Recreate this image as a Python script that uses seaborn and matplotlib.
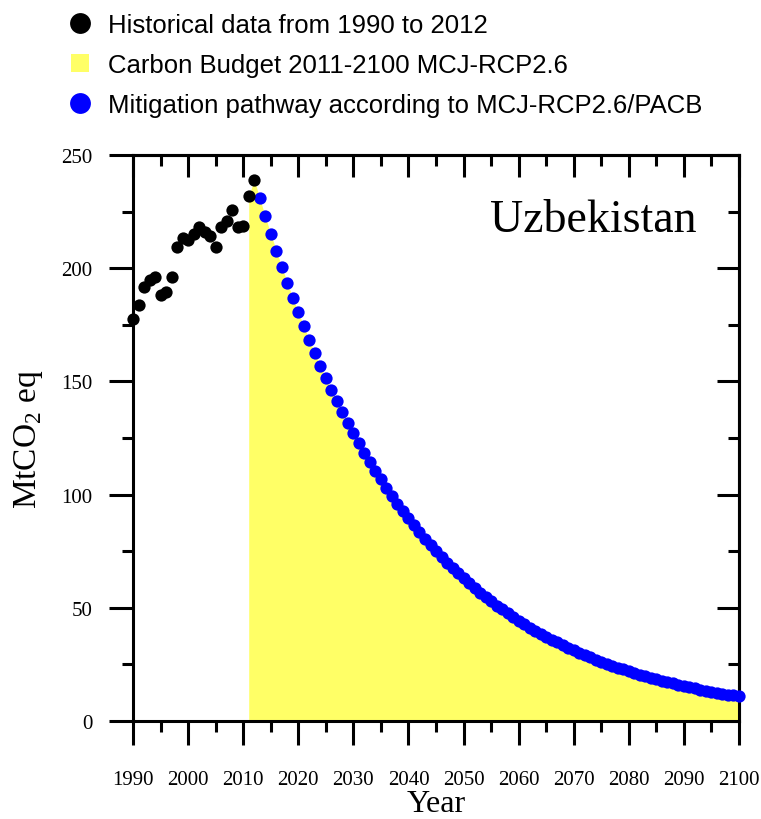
import numpy as np
import pandas as pd
import matplotlib
matplotlib.use("Agg")
import matplotlib.pyplot as plt
import seaborn as sns
from matplotlib.lines import Line2D
from matplotlib.ticker import MultipleLocator

# historical emissions, MtCO2 eq
hist_years = list(range(1990, 2013))
hist_values = [177.5, 183.9, 191.7, 194.6, 196.1, 188.0, 189.5, 196.1, 209.3,
               213.4, 212.5, 215.2, 218.4, 215.9, 214.2, 209.3, 218.1, 221.0,
               225.7, 218.1, 218.8, 231.8, 239.1]

# mitigation pathway 2013-2100
path_years = list(range(2013, 2101))
path_values = [230.9, 222.9, 215.2, 207.8, 200.7, 193.7, 187.0, 180.6, 174.4, 168.3,
               162.5, 156.9, 151.5, 146.3, 141.2, 136.4, 131.7, 127.1, 122.7, 118.5,
               114.4, 110.5, 106.7, 103.0, 99.4, 96.0, 92.7, 89.5, 86.4, 83.4,
               80.5, 77.8, 75.1, 72.5, 70.0, 67.6, 65.2, 63.0, 60.8, 58.7,
               56.7, 54.7, 52.9, 51.0, 49.3, 47.6, 45.9, 44.3, 42.8, 41.3,
               39.9, 38.5, 37.2, 35.9, 34.7, 33.5, 32.3, 31.2, 30.1, 29.1,
               28.1, 27.1, 26.2, 25.3, 24.4, 23.6, 22.8, 22.0, 21.2, 20.5,
               19.8, 19.1, 18.4, 17.8, 17.2, 16.6, 16.0, 15.5, 14.9, 14.4,
               13.9, 13.4, 13.0, 12.5, 12.1, 11.7, 11.3, 10.9]

legend_labels = ["Historical data from 1990 to 2012",
                 "Carbon Budget 2011-2100 MCJ-RCP2.6",
                 "Mitigation pathway according to MCJ-RCP2.6/PACB"]
country = "Uzbekistan"

hist = pd.DataFrame({"year": hist_years, "value": hist_values})
path = pd.DataFrame({"year": path_years, "value": path_values})
# budget area starts at 2011 from the last historical years
budget = pd.concat([hist[hist.year >= 2011], path], ignore_index=True)

sns.set_style("ticks")
serif = "Liberation Serif"
plt.rcParams["font.family"] = [serif, "DejaVu Serif"]
plt.rcParams["mathtext.fontset"] = "custom"
plt.rcParams["mathtext.rm"] = serif
plt.rcParams.update({"axes.edgecolor": "black", "xtick.color": "black",
                     "ytick.color": "black", "text.color": "black",
                     "axes.labelcolor": "black"})

fig = plt.figure(figsize=(7.61, 8.20), dpi=100)
ax = fig.add_axes([0.1748, 0.1195, 0.7963, 0.6902])

ax.fill_between(budget.year, 0, budget.value, color="#FFFF66", linewidth=0, zorder=1)
sns.scatterplot(data=path, x="year", y="value", ax=ax, color="#0000FF", s=78,
                linewidth=0, zorder=3, clip_on=False)
sns.scatterplot(data=hist, x="year", y="value", ax=ax, color="black", s=78,
                linewidth=0, zorder=4, clip_on=False)

ax.set_xlim(1990, 2100)
ax.set_ylim(0, 250)
ax.xaxis.set_major_locator(MultipleLocator(10))
ax.xaxis.set_minor_locator(MultipleLocator(5))
ax.yaxis.set_major_locator(MultipleLocator(50))
ax.yaxis.set_minor_locator(MultipleLocator(25))

for sp in ax.spines.values():
    sp.set_linewidth(2.2)
    sp.set_visible(True)

ax.tick_params(axis="both", which="both", direction="out", width=2.2,
               top=False, right=False, labelsize=15)
ax.tick_params(axis="both", which="major", length=17)
ax.tick_params(axis="both", which="minor", length=8)
ax.tick_params(axis="x", which="major", pad=18)
ax.tick_params(axis="y", which="major", pad=12)

top = ax.secondary_xaxis("top")
top.xaxis.set_major_locator(MultipleLocator(10))
top.xaxis.set_minor_locator(MultipleLocator(5))
top.tick_params(which="both", direction="in", width=2.2, labeltop=False)
top.tick_params(which="major", length=16)
top.tick_params(which="minor", length=8)
right = ax.secondary_yaxis("right")
right.yaxis.set_major_locator(MultipleLocator(50))
right.yaxis.set_minor_locator(MultipleLocator(25))
right.tick_params(which="both", direction="in", width=2.2, labelright=False)
right.tick_params(which="major", length=16)
right.tick_params(which="minor", length=8)
for a in (top, right):
    for sp in a.spines.values():
        sp.set_linewidth(2.2)

ax.set_xlabel("Year", fontsize=23, labelpad=0)
ax.set_ylabel(r"MtCO$_\mathregular{2}$ eq", fontsize=24, labelpad=12)

ax.text(0.93, 0.885, country, transform=ax.transAxes, ha="right", va="center",
        fontsize=33)

handles = [Line2D([], [], ls="", marker="o", markersize=15, color="black", markeredgewidth=0),
           Line2D([], [], ls="", marker="s", markersize=13, color="#FFFF66", markeredgewidth=0),
           Line2D([], [], ls="", marker="o", markersize=15, color="#0000FF", markeredgewidth=0)]
fig.legend(handles, legend_labels, loc="upper left", bbox_to_anchor=(0.088, 0.983),
           frameon=False, prop={"family": "Liberation Sans", "size": 18.5},
           handlelength=1.0, handletextpad=0.6, labelspacing=0.62,
           borderpad=0, borderaxespad=0)

fig.savefig("out.png", dpi=100)
